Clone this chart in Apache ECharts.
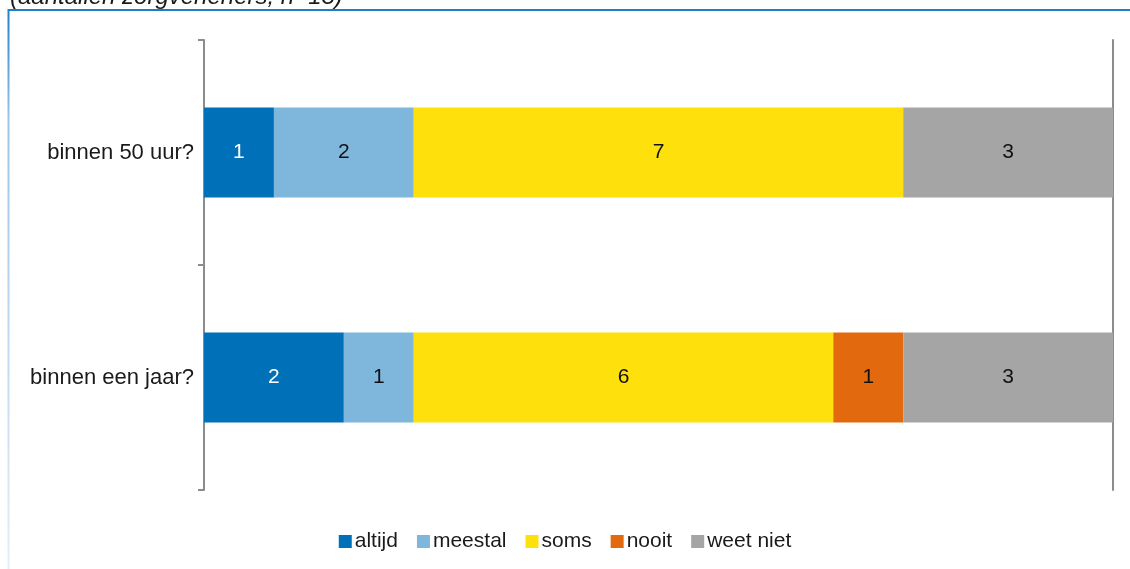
<!DOCTYPE html>
<html>
<head>
<meta charset="utf-8">
<script src="https://cdn.jsdelivr.net/npm/echarts@6/dist/echarts.min.js"></script>
<style>
  html, body { margin: 0; padding: 0; background: #ffffff; }
  #chart { width: 1130px; height: 569px; }
</style>
</head>
<body>
<div id="chart"></div>
<script>
// Questions (rows, top to bottom)
const categories = ['binnen 50 uur?', 'binnen een jaar?'];

// Answer counts per row
const altijd   = [1, 2];
const meestal  = [2, 1];
const soms     = [7, 6];
const nooit    = [0, 1];
const weetNiet = [3, 3];

const seriesNames = ['altijd', 'meestal', 'soms', 'nooit', 'weet niet'];
const seriesData = [altijd, meestal, soms, nooit, weetNiet];
const colors = ['#0070b8', '#7fb6dc', '#fde00c', '#e2690e', '#a5a5a5'];
const labelColors = ['#ffffff', '#111111', '#111111', '#111111', '#111111'];
const total = 13;

const FONT = '"Liberation Sans", Arial, sans-serif';

const chart = echarts.init(document.getElementById('chart'), null, { renderer: 'canvas' });

chart.setOption({
  animation: false,
  backgroundColor: '#ffffff',
  textStyle: { fontFamily: FONT },
  grid: { left: 204, right: 17, top: 40, bottom: 79 },
  xAxis: {
    type: 'value', min: 0, max: total,
    axisLine: { show: false }, axisTick: { show: false },
    axisLabel: { show: false }, splitLine: { show: false }
  },
  yAxis: [
    {
      type: 'category', data: categories, inverse: true,
      axisLine: { show: true, lineStyle: { color: '#8c8c8c', width: 2 } },
      axisTick: { show: true, length: 6, lineStyle: { color: '#8c8c8c', width: 2 } },
      axisLabel: { fontSize: 22, color: '#1a1a1a', margin: 10, fontFamily: FONT }
    },
    {
      type: 'category', data: categories, inverse: true, position: 'right',
      axisLine: { show: true, lineStyle: { color: '#8c8c8c', width: 2 } },
      axisTick: { show: false }, axisLabel: { show: false }
    }
  ],
  legend: {
    top: 526, left: 'center',
    itemWidth: 13, itemHeight: 13, itemGap: 19,
    icon: 'rect',
    textStyle: { fontSize: 21, color: '#1a1a1a', fontFamily: FONT, padding: [0, 0, 0, -2] },
    data: seriesNames
  },
  graphic: [
    {
      type: 'text', left: 10, top: -15,
      style: { text: '(aantallen zorgverleners, n=13)', fill: '#1a1a1a', font: 'italic 24px "Liberation Sans", Arial, sans-serif' }
    },
    {
      type: 'line', shape: { x1: 8, y1: 10, x2: 1130, y2: 10 },
      style: { stroke: '#1f7fc6', lineWidth: 2 }
    },
    {
      type: 'line', shape: { x1: 8.5, y1: 9, x2: 8.5, y2: 569 },
      style: {
        lineWidth: 2,
        stroke: new echarts.graphic.LinearGradient(0, 0, 0, 1, [
          { offset: 0, color: '#1f7fc6' },
          { offset: 0.2, color: '#9cc4e8' },
          { offset: 1, color: '#e6eef8' }
        ])
      }
    }
  ],
  series: seriesNames.map((name, i) => ({
    name: name,
    type: 'bar',
    stack: 'total',
    barWidth: '40%',
    itemStyle: { color: colors[i] },
    label: {
      show: true, position: 'inside', fontSize: 21, color: labelColors[i], fontFamily: FONT,
      formatter: p => (p.value > 0 ? String(p.value) : '')
    },
    data: seriesData[i]
  }))
});
</script>
</body>
</html>
